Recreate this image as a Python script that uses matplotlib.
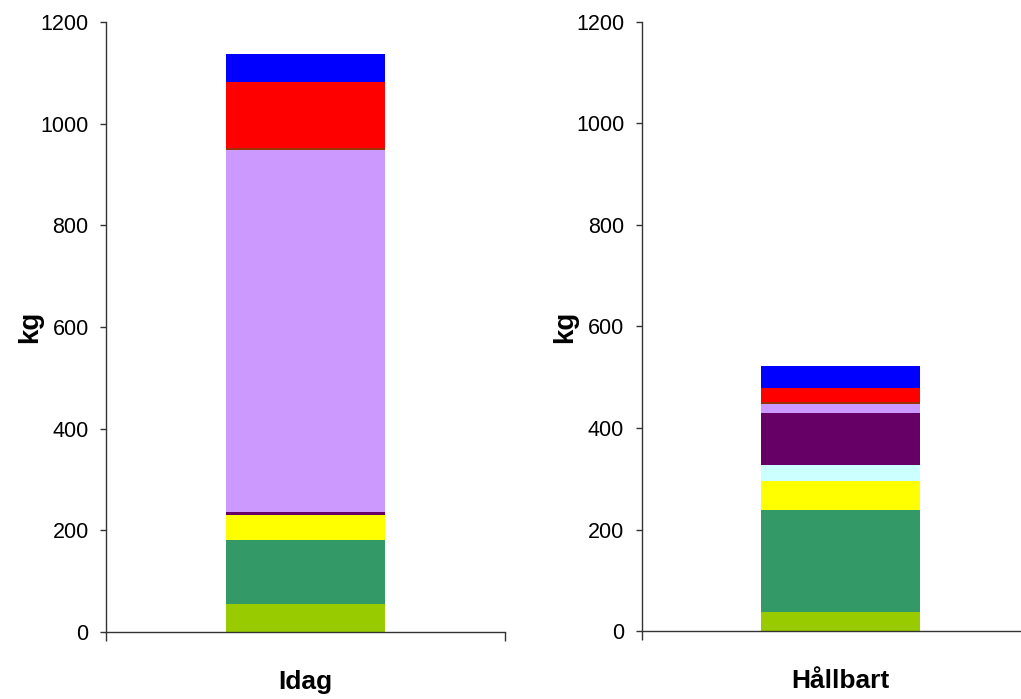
import matplotlib
matplotlib.use("Agg")
import matplotlib.pyplot as plt
from matplotlib.ticker import FixedLocator

plt.rcParams['font.family'] = ['Liberation Sans', 'DejaVu Sans']

categories = ["Idag", "Hållbart"]
series_names = ["s1", "s2", "s3", "s4", "s5", "s6", "s7", "s8", "s9"]
colors = ["#99CC00", "#339966", "#FFFF00", "#CCFFFF", "#660066",
          "#CC99FF", "#993300", "#FF0000", "#0000FF"]
# values per series (bottom to top), one per category
s1 = [55, 37]
s2 = [126, 201]
s3 = [49, 57]
s4 = [0, 33]
s5 = [6, 101]
s6 = [712, 19]
s7 = [4, 4]
s8 = [130, 27]
s9 = [55, 44]
series = [s1, s2, s3, s4, s5, s6, s7, s8, s9]
yticks = [0, 200, 400, 600, 800, 1000, 1200]

W, H = 1021, 699
fig = plt.figure(figsize=(W / 100, H / 100), dpi=100)

axes_px = [(106, 632, 399, 610), (641.5, 631, 398, 609)]
spine_col = "#333333"

for i, cat in enumerate(categories):
    x0, yb, w, h = axes_px[i]
    ax = fig.add_axes([x0 / W, 1 - yb / H, w / W, h / H])
    bottom = 0
    for vals, c in zip(series, colors):
        v = vals[i]
        if v > 0:
            ax.bar(0.5, v, width=0.401, bottom=bottom, color=c, linewidth=0)
        bottom += v
    ax.set_xlim(0, 1)
    ax.set_ylim(0, 1200)
    ax.set_yticks(yticks)
    ax.set_yticklabels([str(t) for t in yticks], fontsize=15.5)
    ax.tick_params(axis='y', direction='out', length=4.5, width=1,
                   color=spine_col, pad=8)
    ax.xaxis.set_major_locator(FixedLocator([0, 1]))
    ax.xaxis.set_minor_locator(FixedLocator([0.5]))
    ax.set_xticklabels(["", ""])
    ax.set_xticklabels([cat], minor=True, fontsize=19, fontweight='bold')
    ax.tick_params(axis='x', which='major', direction='out', length=6.5,
                   width=1, color=spine_col)
    ax.tick_params(axis='x', which='minor', length=0, pad=27)
    for s in ['top', 'right']:
        ax.spines[s].set_visible(False)
    for s in ['left', 'bottom']:
        ax.spines[s].set_color(spine_col)
        ax.spines[s].set_linewidth(1)
    ax.set_ylabel("kg", fontsize=20, fontweight='bold')
    ax.yaxis.set_label_coords(-63 / w, 0.5)

fig.savefig("out.png", dpi=100)
